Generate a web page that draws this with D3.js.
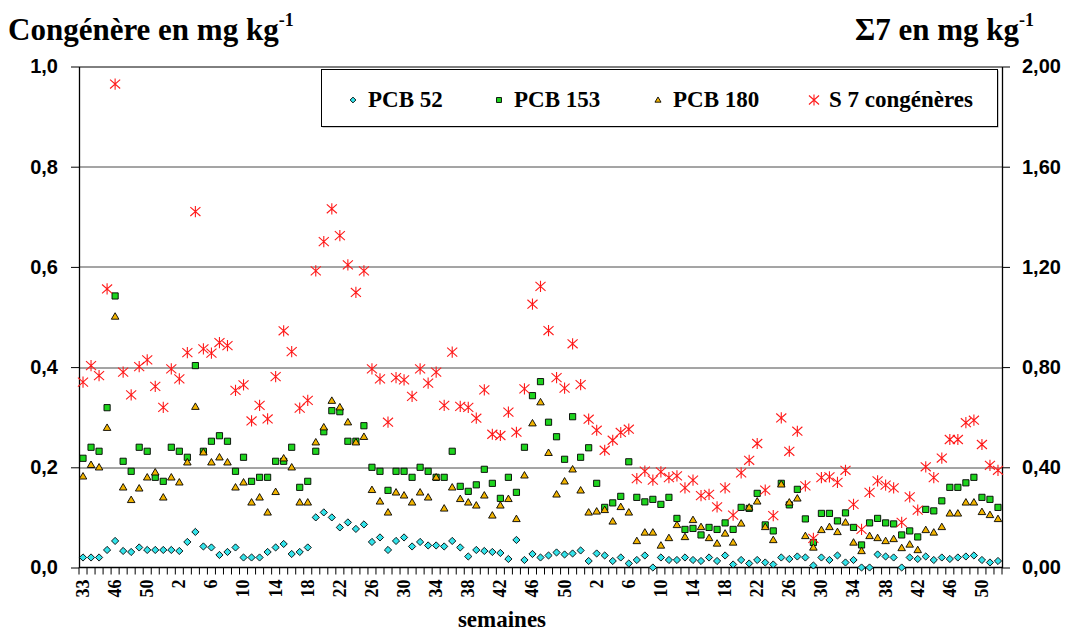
<!DOCTYPE html>
<html>
<head>
<meta charset="utf-8">
<script src="https://cdn.jsdelivr.net/npm/d3@7/dist/d3.min.js"></script>
<style>
    body { margin: 0; background: #ffffff; }
    svg { display: block; }
</style>
</head>
<body>
<svg id="chart" width="1072" height="630"></svg>
<script>
// weeks of sampling, three successive years
const weeks = [33, 43, 44, 45, 46, 47, 48, 49, 50, 51, 52,
    1, 2, 3, 4, 5, 6, 7, 8, 9, 10, 11, 12, 13, 14, 15, 16, 17, 18, 19, 20, 21, 22, 23, 24, 25, 26,
    27, 28, 29, 30, 31, 32, 33, 34, 35, 36, 37, 38, 39, 40, 41, 42, 43, 44, 45, 46, 47, 48, 49, 50, 51, 52,
    1, 2, 3, 4, 5, 6, 7, 8, 9, 10, 11, 12, 13, 14, 15, 16, 17, 18, 19, 20, 21, 22, 23, 24, 25, 26,
    27, 28, 29, 30, 31, 32, 33, 34, 35, 36, 37, 38, 39, 40, 41, 42, 43, 44, 45, 46, 47, 48, 49, 50, 51, 52];

const pcb52 = [0.020, 0.020, 0.020, 0.035, 0.053, 0.033, 0.031, 0.040, 0.035, 0.035, 0.035, 0.035, 0.033, 0.051, 0.071,
    0.042, 0.040, 0.025, 0.031, 0.040, 0.020, 0.020, 0.020, 0.031, 0.040, 0.047, 0.027, 0.031, 0.040,
    0.100, 0.110, 0.100, 0.080, 0.090, 0.077, 0.086, 0.051, 0.060, 0.035, 0.053, 0.060, 0.042, 0.051, 0.044,
    0.044, 0.042, 0.053, 0.040, 0.022, 0.035, 0.033, 0.031, 0.029, 0.017, 0.055, 0.015, 0.027, 0.020,
    0.024, 0.030, 0.026, 0.028, 0.034, 0.013, 0.028, 0.024, 0.013, 0.020, 0.008, 0.015, 0.024, 0.000,
    0.020, 0.015, 0.015, 0.020, 0.015, 0.013, 0.020, 0.013, 0.024, 0.006, 0.015, 0.008, 0.015, 0.010,
    0.006, 0.020, 0.017, 0.022, 0.020, 0.004, 0.020, 0.015, 0.024, 0.010, 0.015, 0.000, 0.000, 0.026,
    0.022, 0.020, 0.000, 0.020, 0.017, 0.022, 0.015, 0.020, 0.017, 0.020, 0.022, 0.024, 0.015, 0.010, 0.013];

const pcb153 = [0.218, 0.240, 0.232, 0.319, 0.542, 0.212, 0.192, 0.240, 0.232, 0.180, 0.172, 0.240, 0.232, 0.220, 0.403,
    0.232, 0.252, 0.263, 0.252, 0.192, 0.220, 0.172, 0.180, 0.180, 0.212, 0.212, 0.240, 0.160, 0.172,
    0.232, 0.271, 0.313, 0.311, 0.252, 0.252, 0.283, 0.200, 0.192, 0.154, 0.192, 0.192, 0.180, 0.200, 0.192,
    0.180, 0.180, 0.232, 0.162, 0.152, 0.165, 0.196, 0.168, 0.138, 0.180, 0.150, 0.240, 0.343, 0.371,
    0.290, 0.261, 0.216, 0.301, 0.220, 0.239, 0.168, 0.120, 0.129, 0.142, 0.211, 0.140, 0.131, 0.136,
    0.126, 0.140, 0.098, 0.076, 0.078, 0.065, 0.080, 0.076, 0.089, 0.076, 0.120, 0.118, 0.148, 0.085,
    0.073, 0.168, 0.125, 0.156, 0.097, 0.050, 0.108, 0.108, 0.093, 0.109, 0.080, 0.045, 0.089, 0.098,
    0.089, 0.087, 0.065, 0.073, 0.061, 0.116, 0.113, 0.133, 0.160, 0.160, 0.169, 0.180, 0.140, 0.136, 0.120];

const pcb180 = [0.182, 0.205, 0.200, 0.279, 0.501, 0.160, 0.135, 0.158, 0.180, 0.190, 0.140, 0.180, 0.170, 0.210, 0.321,
    0.230, 0.210, 0.220, 0.210, 0.160, 0.170, 0.130, 0.140, 0.110, 0.151, 0.218, 0.200, 0.130, 0.130,
    0.250, 0.280, 0.333, 0.320, 0.290, 0.250, 0.261, 0.155, 0.132, 0.110, 0.150, 0.144, 0.130, 0.150, 0.140,
    0.180, 0.118, 0.160, 0.137, 0.130, 0.124, 0.144, 0.104, 0.124, 0.137, 0.097, 0.184, 0.288, 0.330,
    0.229, 0.146, 0.172, 0.196, 0.154, 0.110, 0.112, 0.115, 0.092, 0.121, 0.110, 0.053, 0.070, 0.070,
    0.044, 0.059, 0.085, 0.061, 0.095, 0.081, 0.059, 0.048, 0.068, 0.050, 0.088, 0.120, 0.132, 0.081,
    0.055, 0.166, 0.130, 0.138, 0.063, 0.040, 0.075, 0.081, 0.071, 0.090, 0.050, 0.033, 0.063, 0.059,
    0.053, 0.057, 0.039, 0.046, 0.035, 0.075, 0.070, 0.081, 0.108, 0.108, 0.130, 0.130, 0.111, 0.105, 0.097];

// sum of the 7 congeners, read on the right axis
const sum7 = [0.740, 0.806, 0.766, 1.112, 1.930, 0.780, 0.689, 0.802, 0.829, 0.723, 0.639, 0.793, 0.753, 0.858, 1.421,
    0.873, 0.856, 0.898, 0.886, 0.707, 0.729, 0.585, 0.647, 0.593, 0.762, 0.945, 0.862, 0.636, 0.667,
    1.184, 1.301, 1.432, 1.325, 1.208, 1.098, 1.184, 0.793, 0.753, 0.580, 0.758, 0.749, 0.683, 0.793, 0.736,
    0.780, 0.647, 0.860, 0.643, 0.639, 0.596, 0.709, 0.532, 0.527, 0.620, 0.540, 0.713, 1.051, 1.122,
    0.946, 0.758, 0.716, 0.893, 0.730, 0.592, 0.548, 0.468, 0.508, 0.539, 0.552, 0.355, 0.385, 0.349,
    0.382, 0.359, 0.366, 0.318, 0.349, 0.287, 0.292, 0.242, 0.318, 0.209, 0.378, 0.428, 0.495, 0.309,
    0.207, 0.597, 0.464, 0.544, 0.326, 0.116, 0.359, 0.362, 0.340, 0.388, 0.252, 0.152, 0.300, 0.346,
    0.329, 0.318, 0.180, 0.282, 0.229, 0.402, 0.359, 0.437, 0.511, 0.511, 0.578, 0.588, 0.491, 0.408, 0.388];

const leftTicks = [0, 0.2, 0.4, 0.6, 0.8, 1.0];
const rightTicks = [0, 0.4, 0.8, 1.2, 1.6, 2.0];
const seriesNames = ["PCB 52", "PCB 153", "PCB 180", "S 7 congénères"];
const labelEvery = 4;

const serif = "'Liberation Serif', 'Times New Roman', serif";
const sans = "'Liberation Sans', Arial, sans-serif";

const margin = { top: 66.5, right: 70, bottom: 62.5, left: 79 };
const width = 1072 - margin.left - margin.right;
const height = 630 - margin.top - margin.bottom;

const xScale = d3.scaleBand().domain(d3.range(weeks.length)).range([0, width]);
const yLeft = d3.scaleLinear().domain([0, 1]).range([height, 0]);
const yRight = d3.scaleLinear().domain([0, 2]).range([height, 0]);
const cx = i => xScale(i) + xScale.bandwidth() / 2;

const shapes = {
    diamond: r => `M0,${-r}L${r},0L0,${r}L${-r},0Z`,
    square: r => `M${-r},${-r}H${r}V${r}H${-r}Z`,
    triangle: r => `M0,${-r * 1.05}L${r * 1.05},${r * 0.75}L${-r * 1.05},${r * 0.75}Z`,
    star: r => `M0,${-r}V${r}M${-r * 0.9},${-r * 0.8}L${r * 0.9},${r * 0.8}M${r * 0.9},${-r * 0.8}L${-r * 0.9},${r * 0.8}`
};

const series = [
    { name: seriesNames[0], values: pcb52, y: yLeft, shape: "diamond", size: 3.6, fill: "#33e3ea", stroke: "#000" },
    { name: seriesNames[1], values: pcb153, y: yLeft, shape: "square", size: 3.1, fill: "#1ed41e", stroke: "#000" },
    { name: seriesNames[2], values: pcb180, y: yLeft, shape: "triangle", size: 3.6, fill: "#f2b400", stroke: "#000" },
    { name: seriesNames[3], values: sum7, y: yRight, shape: "star", size: 5.6, fill: "none", stroke: "#ff1a1a" }
];

const fmt = digits => d => d3.format(`.${digits}f`)(d).replace(".", ",");

const svg = d3.select("#chart");
const chart = svg.append("g").attr("transform", `translate(${margin.left}, ${margin.top})`);

// horizontal grid
chart.selectAll("line.grid")
    .data(leftTicks.filter(d => d > 0))
    .join("line")
    .attr("class", "grid")
    .attr("x1", 0)
    .attr("x2", width)
    .attr("y1", d => Math.round(yLeft(d)) + 0.5)
    .attr("y2", d => Math.round(yLeft(d)) + 0.5)
    .attr("stroke", d => d === 1 ? "#000" : "#4a4a4a")
    .attr("stroke-width", 1);

// left axis
const leftAxis = chart.append("g")
    .call(d3.axisLeft(yLeft).tickValues(leftTicks).tickSize(8).tickSizeOuter(0).tickPadding(13).tickFormat(fmt(1)));

// right axis
const rightAxis = chart.append("g")
    .attr("transform", `translate(${width}, 0)`)
    .call(d3.axisRight(yRight).tickValues(rightTicks).tickSize(8).tickSizeOuter(0).tickPadding(12).tickFormat(fmt(2)));

[leftAxis, rightAxis].forEach(a => {
    a.selectAll("path.domain").attr("stroke", "#000").attr("stroke-width", 1.3);
    a.selectAll(".tick line").attr("stroke", "#000");
    a.selectAll("text")
        .attr("font-family", sans)
        .attr("font-weight", "bold")
        .attr("font-size", 20)
        .attr("fill", "#000");
});

// x axis
chart.append("line")
    .attr("x1", 0)
    .attr("x2", width)
    .attr("y1", height)
    .attr("y2", height)
    .attr("stroke", "#000")
    .attr("stroke-width", 1.5);

chart.selectAll("line.xtick")
    .data(d3.range(weeks.length + 1))
    .join("line")
    .attr("class", "xtick")
    .attr("x1", i => i < weeks.length ? xScale(i) : width)
    .attr("x2", i => i < weeks.length ? xScale(i) : width)
    .attr("y1", height)
    .attr("y2", height + 7)
    .attr("stroke", "#000");

chart.selectAll("text.xlabel")
    .data(d3.range(weeks.length).filter(i => i % labelEvery === 0))
    .join("text")
    .attr("class", "xlabel")
    .attr("font-family", serif)
    .attr("font-weight", "bold")
    .attr("font-size", 18)
    .attr("text-anchor", "end")
    .attr("dy", "0.33em")
    .attr("transform", i => `translate(${cx(i)}, ${height + 12}) rotate(-90)`)
    .text(i => weeks[i]);

chart.append("text")
    .attr("x", 423)
    .attr("y", height + 59)
    .attr("text-anchor", "middle")
    .attr("font-family", serif)
    .attr("font-weight", "bold")
    .attr("font-size", 23)
    .text("semaines");

// points
series.forEach(s => {
    chart.append("g")
        .selectAll("path")
        .data(s.values.map((v, i) => ({ i, v })))
        .join("path")
        .attr("transform", d => `translate(${cx(d.i)}, ${s.y(d.v)})`)
        .attr("d", shapes[s.shape](s.size))
        .attr("fill", s.fill)
        .attr("stroke", s.stroke)
        .attr("stroke-width", s.shape === "star" ? 1.1 : 0.9)
        .attr("stroke-linejoin", "miter");
});

// legend
const legend = svg.append("g").attr("transform", "translate(321, 69)");
legend.append("rect")
    .attr("x", 1.5).attr("y", 1.5)
    .attr("width", 676).attr("height", 57)
    .attr("fill", "#9a9a9a");
legend.append("rect")
    .attr("x", 0.5).attr("y", 0.5)
    .attr("width", 676).attr("height", 57)
    .attr("fill", "#fff")
    .attr("stroke", "#000");

const legendX = [32, 178, 337, 493];
const legendItems = legend.selectAll("g.item")
    .data(series)
    .join("g")
    .attr("class", "item")
    .attr("transform", (d, i) => `translate(${legendX[i]}, 31)`);

legendItems.append("path")
    .attr("d", d => shapes[d.shape](d.size * (d.shape === "star" ? 1 : 0.8)))
    .attr("fill", d => d.fill)
    .attr("stroke", d => d.stroke)
    .attr("stroke-width", d => d.shape === "star" ? 1.1 : 0.9);

legendItems.append("text")
    .attr("x", 15)
    .attr("y", 7)
    .attr("font-family", serif)
    .attr("font-weight", "bold")
    .attr("font-size", 23)
    .text(d => d.name);

// axis titles
const leftTitle = svg.append("text")
    .attr("x", 8)
    .attr("y", 40)
    .attr("font-family", serif)
    .attr("font-weight", "bold")
    .attr("font-size", 31);
leftTitle.append("tspan").text("Congénère en mg kg");
leftTitle.append("tspan").attr("font-size", 18).attr("dy", -14).text("-1");

const rightTitle = svg.append("text")
    .attr("x", 1034)
    .attr("y", 40)
    .attr("text-anchor", "end")
    .attr("font-family", serif)
    .attr("font-weight", "bold")
    .attr("font-size", 31);
rightTitle.append("tspan").text("Σ7 en mg kg");
rightTitle.append("tspan").attr("font-size", 18).attr("dy", -14).text("-1");
</script>
</body>
</html>
